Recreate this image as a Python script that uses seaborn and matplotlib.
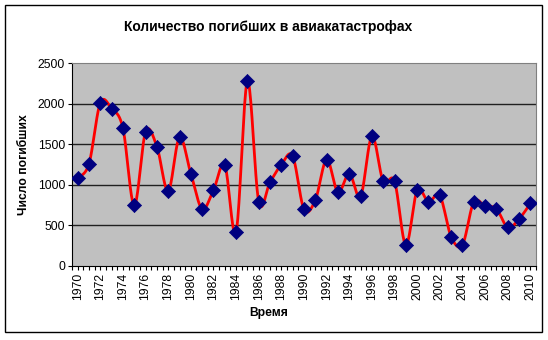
import numpy as np
import pandas as pd
import matplotlib
matplotlib.use("Agg")
import matplotlib.pyplot as plt
import seaborn as sns
from matplotlib.patches import Rectangle

years = list(range(1970, 2011))
deaths = [1086, 1258, 2008, 1939, 1697, 746, 1652, 1471, 922, 1586,
          1139, 701, 934, 1242, 422, 2275, 791, 1033, 1250, 1352,
          697, 811, 1311, 906, 1139, 857, 1598, 1041, 1043, 258,
          934, 787, 869, 361, 262, 787, 738, 705, 475, 578, 770]
title = "Количество погибших в авиакатастрофах"
xlabel = "Время"
ylabel = "Число погибших"

sns.set_theme(style="white")
plt.rcParams['font.family'] = ['Liberation Sans', 'DejaVu Sans']
plt.rcParams['text.color'] = 'black'
plt.rcParams['xtick.color'] = 'black'
plt.rcParams['ytick.color'] = 'black'
plt.rcParams['axes.labelcolor'] = 'black'

df = pd.DataFrame({"idx": np.arange(len(years)), "deaths": deaths})

# Excel-style smoothing (Catmull-Rom Bezier) computed from the data
def smooth(x, y, n=20):
    x = np.asarray(x, float); y = np.asarray(y, float)
    xs, ys = [], []
    for i in range(len(x) - 1):
        p0 = np.array([x[i - 1] if i > 0 else x[i], y[i - 1] if i > 0 else y[i]])
        p1 = np.array([x[i], y[i]])
        p2 = np.array([x[i + 1], y[i + 1]])
        p3 = np.array([x[i + 2], y[i + 2]]) if i + 2 < len(x) else p2
        c1 = p1 + (p2 - p0) / 6
        c2 = p2 - (p3 - p1) / 6
        t = np.linspace(0, 1, n, endpoint=(i == len(x) - 2))[:, None]
        pts = (1 - t) ** 3 * p1 + 3 * (1 - t) ** 2 * t * c1 + 3 * (1 - t) * t ** 2 * c2 + t ** 3 * p2
        xs.extend(pts[:, 0]); ys.extend(pts[:, 1])
    return np.array(xs), np.array(ys)

sx, sy = smooth(df["idx"], df["deaths"])
sdf = pd.DataFrame({"x": sx, "y": sy})

fig = plt.figure(figsize=(5.48, 3.40), dpi=100)
fig.patch.set_facecolor("white")
ax = fig.add_axes([72 / 548, 1 - 266 / 340, (536 - 72) / 548, (266 - 63) / 340])
ax.set_facecolor("#C0C0C0")

for v in [500, 1000, 1500, 2000]:
    ax.axhline(v, color="#202020", lw=1.0, zorder=1)

sns.lineplot(data=sdf, x="x", y="y", ax=ax, color="#FF0000", lw=2.0, sort=False,
             estimator=None, zorder=2)
sns.scatterplot(data=df, x="idx", y="deaths", ax=ax, marker="D", s=52,
                color="#000080", edgecolor="#000080", linewidth=0.5, zorder=3)

ax.set_xlim(-0.5, len(years) - 0.5)
ax.set_ylim(0, 2500)
ax.set_yticks(np.arange(0, 2501, 500))
ax.set_yticklabels([str(v) for v in range(0, 2501, 500)], fontsize=8.7)
major = np.arange(0, len(years), 2)
ax.set_xticks(major)
ax.set_xticklabels([str(years[i]) for i in major], rotation=90, fontsize=8.7)
ax.set_xticks(np.arange(-0.5, len(years), 0.5), minor=True)
ax.tick_params(axis="both", which="both", direction="out", length=3, width=0.8,
               color="black", labelcolor="black", bottom=True, left=True, pad=2)
for s in ["left", "bottom"]:
    ax.spines[s].set_color("black"); ax.spines[s].set_linewidth(0.8)
for s in ["top", "right"]:
    ax.spines[s].set_color("#808080"); ax.spines[s].set_linewidth(0.8)
ax.set_xlabel("")
ax.set_ylabel("")

fig.text(0.49, 1 - 27 / 340, title, ha="center", va="center", fontsize=10,
         fontweight="bold", color="black")
fig.text(0.49, 1 - 313 / 340, xlabel, ha="center", va="center", fontsize=8.7,
         fontweight="bold", color="black")
fig.text(24 / 548, 1 - 165 / 340, ylabel, ha="center", va="center", rotation=90,
         fontsize=8.7, fontweight="bold", color="black")

fig.patches.append(Rectangle((5 / 548, 1 - 332 / 340), 537 / 548, 327 / 340,
                             transform=fig.transFigure, fill=False, edgecolor="black", lw=1))

fig.savefig("out.png", dpi=100, facecolor="white")
